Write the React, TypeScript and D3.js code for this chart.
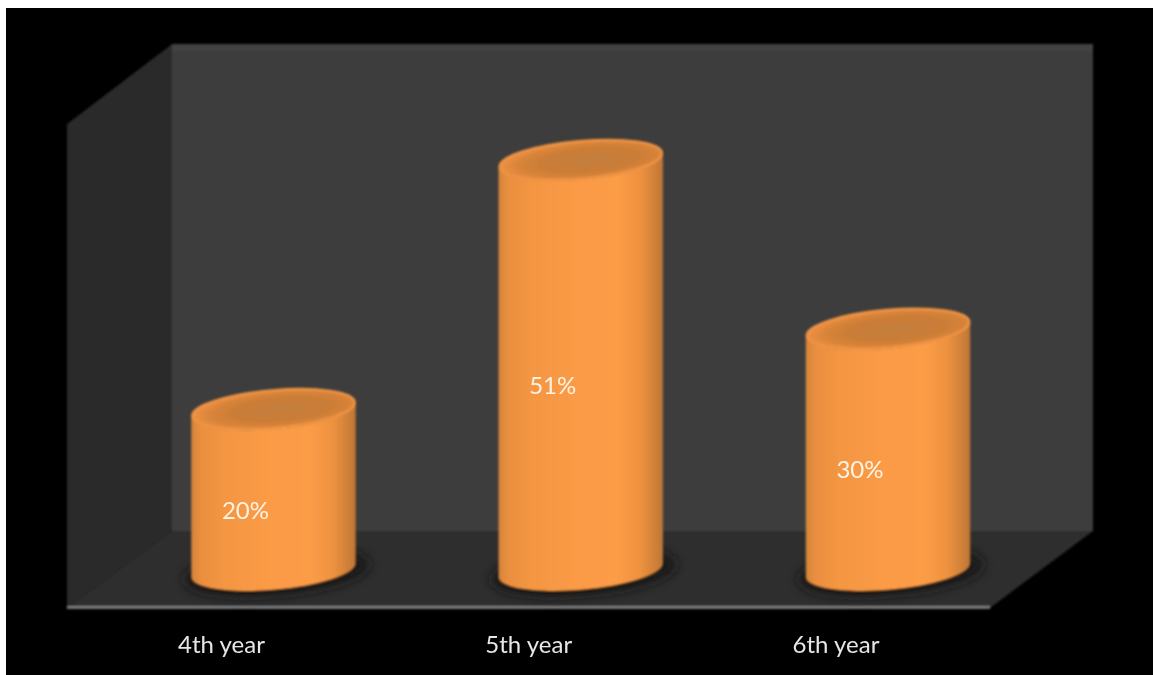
import React from "react";
import * as d3 from "d3";

const categories = ["4th year", "5th year", "6th year"];
const values = [20, 51, 30];
const valueLabels = ["20%", "51%", "30%"];

const W = 1153, H = 675;
const wall = { x0: 172, x1: 1093, y0: 44, y1: 531 };
const front = { x0: 67, x1: 990, y0: 124, y1: 608 };

const x = d3.scalePoint<string>().domain(categories).range([273.5, 888]);
const y = d3.scaleLinear().domain([0, 51]).range([570, 160]);

const A = 82.5, B = 19.8, THETA = 5;
const t = (THETA * Math.PI) / 180;
const halfW = Math.sqrt(A * A * Math.cos(t) ** 2 + B * B * Math.sin(t) ** 2);
const tangentDy = ((A * A - B * B) * Math.sin(t) * Math.cos(t)) / halfW;

function bodyPath(cx: number, top: number, base: number) {
  const l = cx - halfW, r = cx + halfW;
  return (
    `M${l},${top + tangentDy} L${l},${base + tangentDy} ` +
    `A${A},${B} ${-THETA} 0 0 ${r},${base - tangentDy} ` +
    `L${r},${top - tangentDy} ` +
    `A${A},${B} ${-THETA} 0 1 ${l},${top + tangentDy} Z`
  );
}

const poly = (pts: [number, number][]) => d3.line()(pts) + "Z";

export default function App() {
  return (
    <svg
      width={W}
      height={H}
      viewBox={`0 0 ${W} ${H}`}
      style={{ position: "fixed", left: 0, top: 0, background: "#fff", display: "block" }}
    >
      <defs>
        <linearGradient id="cyl" x1="0" x2="1" y1="0" y2="0">
          <stop offset="0" stopColor="#d58539" />
          <stop offset="0.06" stopColor="#ea8f40" />
          <stop offset="0.2" stopColor="#f49643" />
          <stop offset="0.5" stopColor="#fb9b46" />
          <stop offset="0.72" stopColor="#fc9c47" />
          <stop offset="0.86" stopColor="#ee9240" />
          <stop offset="0.95" stopColor="#d08139" />
          <stop offset="1" stopColor="#bd7634" />
        </linearGradient>
        <radialGradient id="topG" cx="0.55" cy="0.52" r="0.55">
          <stop offset="0" stopColor="#c47f3e" />
          <stop offset="0.55" stopColor="#cb7d36" />
          <stop offset="0.8" stopColor="#d9843a" />
          <stop offset="1" stopColor="#ee9142" />
        </radialGradient>
        <filter id="soft" x="-5%" y="-5%" width="110%" height="110%">
          <feGaussianBlur stdDeviation="1" />
        </filter>
        <filter id="shadow" x="-30%" y="-80%" width="160%" height="260%">
          <feGaussianBlur stdDeviation="6" />
        </filter>
        <filter id="txt" x="-10%" y="-20%" width="120%" height="140%">
          <feGaussianBlur stdDeviation="0.6" />
        </filter>
      </defs>

      <rect x={6} y={8} width={W - 6} height={H - 8} fill="#000" />

      <g filter="url(#soft)">
        <path
          d={poly([[front.x0, front.y0], [wall.x0, wall.y0], [wall.x0, wall.y1], [front.x0, front.y1]])}
          fill="#292929"
        />
        <rect x={wall.x0} y={wall.y0} width={wall.x1 - wall.x0} height={wall.y1 - wall.y0} fill="#3d3d3d" />
        <rect x={wall.x0} y={wall.y0} width={wall.x1 - wall.x0} height={7} fill="#424242" />
        <path
          d={poly([[wall.x0, wall.y1], [wall.x1, wall.y1], [front.x1, front.y1], [front.x0, front.y1]])}
          fill="#2f2f2f"
        />
        <line x1={front.x0} x2={front.x1} y1={front.y1 - 0.5} y2={front.y1 - 0.5} stroke="#8a8a8a" strokeWidth={2.5} />
      </g>

      {categories.map((c, i) => {
        const cx = x(c)!;
        const top = y(values[i]);
        const base = y(0);
        return (
          <g key={c}>
            <ellipse
              cx={cx + 3}
              cy={base + 2}
              rx={A + 10}
              ry={B + 3}
              transform={`rotate(${-THETA} ${cx + 3} ${base + 2})`}
              fill="#161616"
              filter="url(#shadow)"
            />
            <g filter="url(#soft)">
              <ellipse
                cx={cx}
                cy={base + 1}
                rx={A}
                ry={B}
                transform={`rotate(${-THETA} ${cx} ${base + 1})`}
                fill="#4a2508"
              />
              <path d={bodyPath(cx, top, base)} fill="url(#cyl)" />
              <ellipse
                cx={cx}
                cy={top}
                rx={A - 1}
                ry={B - 1}
                transform={`rotate(${-THETA} ${cx} ${top})`}
                fill="url(#topG)"
                stroke="#ef9445"
                strokeWidth={2.5}
              />
            </g>
            <text
              x={cx - 28}
              y={(top + base) / 2 + 29}
              textAnchor="middle"
              fontFamily="Lato, 'Open Sans', sans-serif"
              fontSize={24}
              fill="#fff3e4"
              filter="url(#txt)"
            >
              {valueLabels[i]}
            </text>
            <text
              x={cx - 52}
              y={653}
              textAnchor="middle"
              fontFamily="Lato, 'Open Sans', sans-serif"
              fontSize={24}
              fill="#e6e6e6"
              filter="url(#txt)"
            >
              {c}
            </text>
          </g>
        );
      })}
    </svg>
  );
}
